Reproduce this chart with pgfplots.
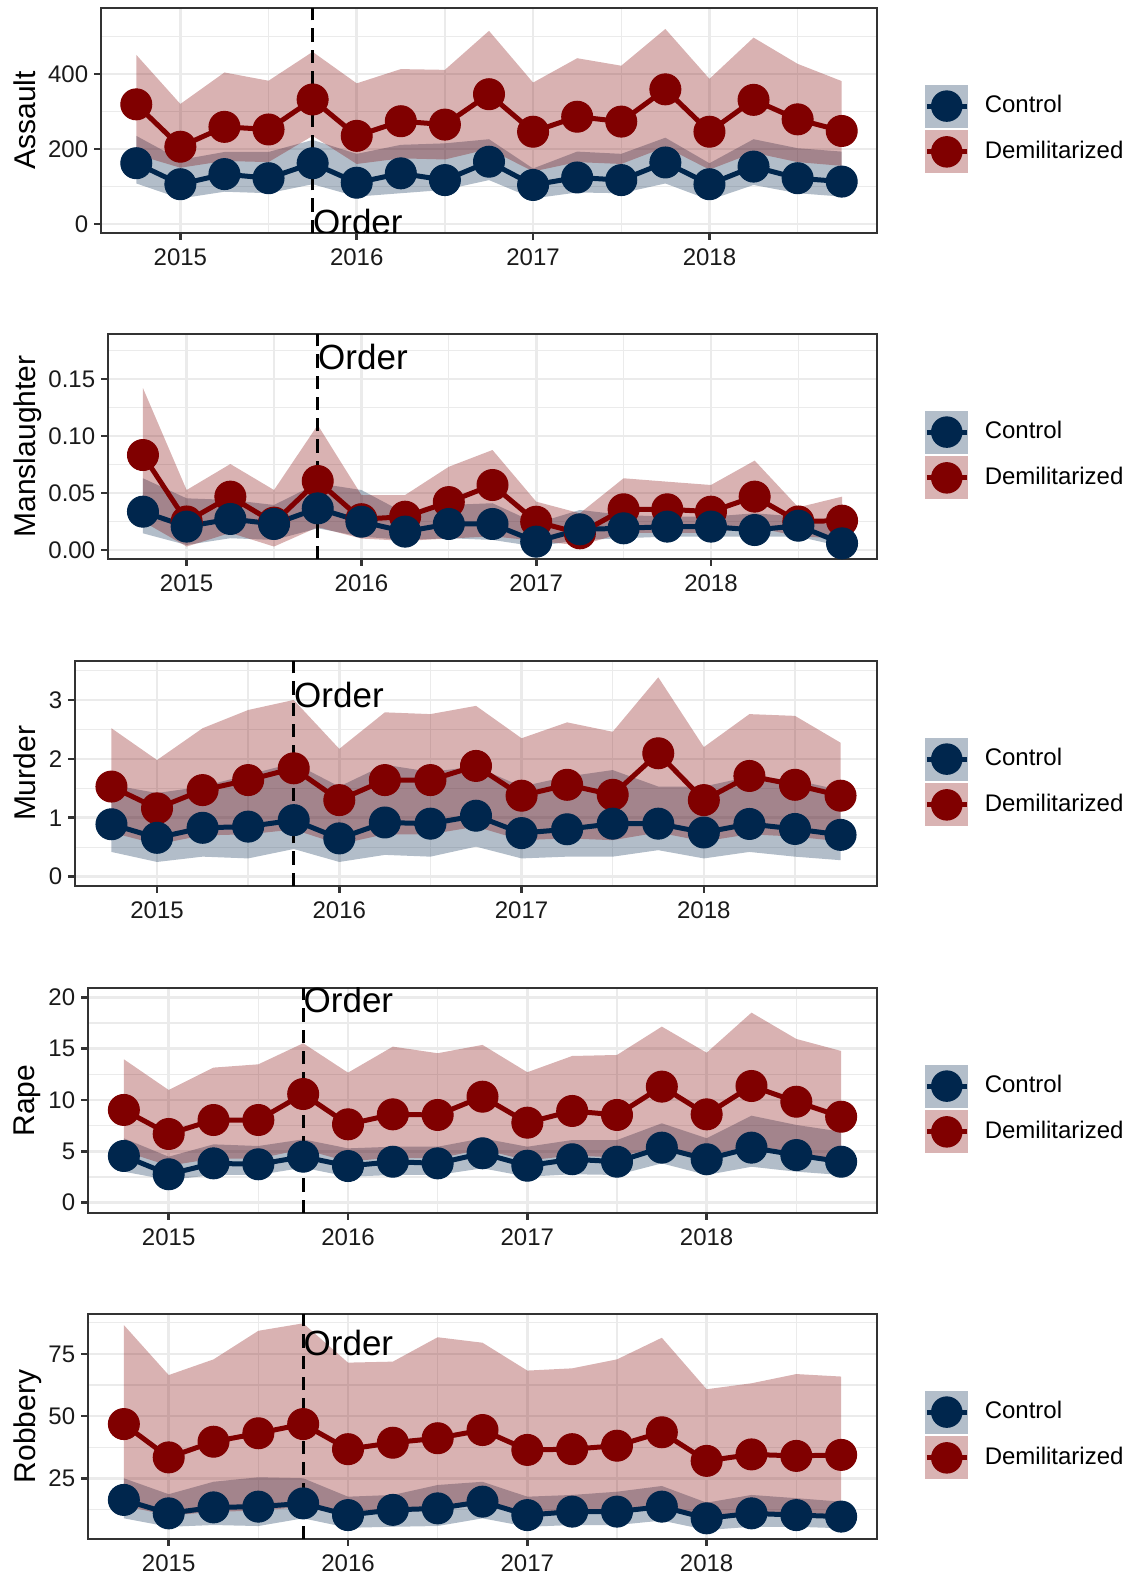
\documentclass[border=0pt]{standalone}
\usepackage{fontspec}
\setmainfont{Liberation Sans}
\usepackage{pgfplots}
\pgfplotsset{compat=1.18}
\usepackage{pgfplotstable}
\usepgfplotslibrary{fillbetween}

\definecolor{ctrl}{HTML}{00264D}
\definecolor{dem}{HTML}{800000}
\definecolor{ctrlband}{HTML}{B3BECA}
\definecolor{demband}{HTML}{D9B3B3}
\definecolor{grid92}{HTML}{EBEBEB}
\definecolor{grey20}{HTML}{333333}
\definecolor{ticktext}{HTML}{1A1A1A}

\pgfplotstableread{
x cm clo chi dm dlo dhi
2014.75 162 108 235 319 185 451
2015.00 106 68 171 206 150 320
2015.25 133 86 192 259 168 404
2015.50 122 82 192 252 165 382
2015.75 162 106 224 332 235 459
2016.00 110 73 187 235 160 375
2016.25 135 82 211 274 175 413
2016.50 117 91 215 265 172 411
2016.75 166 117 226 346 200 515
2017.00 104 68 148 246 140 377
2017.25 124 84 193 286 165 442
2017.50 117 82 187 273 160 422
2017.75 164 108 230 359 205 520
2018.00 106 64 162 246 145 387
2018.25 153 104 226 331 190 497
2018.50 122 82 202 279 165 427
2018.75 113 73 193 248 155 381
}\tAssault

\pgfplotstableread{
x cm clo chi dm dlo dhi
2014.75 0.0336 0.0146 0.0629 0.0833 0.025 0.142
2015.00 0.0205 0.0044 0.0453 0.025 0.003 0.0526
2015.25 0.0272 0.0103 0.0439 0.0468 0.015 0.0754
2015.50 0.0228 0.0088 0.0395 0.024 0.003 0.0526
2015.75 0.0365 0.019 0.0585 0.0605 0.02 0.1096
2016.00 0.0248 0.0117 0.0526 0.027 0.01 0.0482
2016.25 0.0161 0.0088 0.0322 0.0292 0.008 0.0482
2016.50 0.0228 0.0103 0.0395 0.042 0.01 0.073
2016.75 0.0228 0.0088 0.041 0.057 0.012 0.0877
2017.00 0.0073 0.003 0.0234 0.0248 0.008 0.0424
2017.25 0.0181 0.0088 0.0351 0.0146 0.004 0.0322
2017.50 0.019 0.0103 0.0307 0.0357 0.015 0.0629
2017.75 0.0205 0.0117 0.0292 0.0357 0.015 0.0599
2018.00 0.0205 0.0117 0.0292 0.0336 0.015 0.057
2018.25 0.0175 0.0117 0.0322 0.0468 0.02 0.0784
2018.50 0.0213 0.0117 0.0292 0.025 0.012 0.0374
2018.75 0.0058 0.003 0.019 0.0257 0.01 0.0468
}\tMansl

\pgfplotstableread{
x cm clo chi dm dlo dhi
2014.75 0.89 0.42 1.56 1.53 0.75 2.52
2015.00 0.66 0.25 1.42 1.16 0.55 1.98
2015.25 0.83 0.34 1.53 1.47 0.70 2.52
2015.50 0.85 0.31 1.73 1.64 0.72 2.83
2015.75 0.96 0.47 1.93 1.84 0.80 3.00
2016.00 0.65 0.25 1.53 1.30 0.55 2.17
2016.25 0.92 0.37 1.90 1.64 0.72 2.79
2016.50 0.90 0.34 1.78 1.64 0.72 2.76
2016.75 1.035 0.51 1.87 1.88 0.85 2.90
2017.00 0.74 0.31 1.53 1.375 0.62 2.35
2017.25 0.805 0.34 1.70 1.56 0.65 2.62
2017.50 0.90 0.34 1.81 1.39 0.62 2.46
2017.75 0.90 0.45 1.53 2.095 0.75 3.385
2018.00 0.75 0.31 1.53 1.30 0.60 2.20
2018.25 0.895 0.42 1.70 1.71 0.72 2.76
2018.50 0.81 0.34 1.64 1.56 0.68 2.73
2018.75 0.71 0.28 1.47 1.375 0.60 2.275
}\tMurder

\pgfplotstableread{
x cm clo chi dm dlo dhi
2014.75 4.55 3.02 6.27 9.03 5.0 13.96
2015.00 2.77 2.21 4.48 6.69 3.6 10.97
2015.25 3.83 2.70 5.68 8.05 4.3 13.15
2015.50 3.74 2.70 5.52 8.05 4.3 13.47
2015.75 4.48 3.41 6.17 10.58 5.2 15.52
2016.00 3.57 2.53 5.29 7.63 4.0 12.66
2016.25 3.99 2.70 5.45 8.60 4.4 15.19
2016.50 3.83 2.70 5.45 8.54 4.3 14.55
2016.75 4.81 3.35 6.27 10.32 5.2 15.36
2017.00 3.60 2.53 5.45 7.79 4.1 12.70
2017.25 4.23 2.77 6.10 8.93 4.6 14.28
2017.50 3.99 2.70 6.10 8.54 4.4 14.38
2017.75 5.36 3.83 7.73 11.30 5.5 17.14
2018.00 4.23 2.70 6.27 8.60 4.5 14.60
2018.25 5.36 3.50 8.47 11.36 5.6 18.50
2018.50 4.64 3.02 7.57 9.83 4.9 15.94
2018.75 3.99 2.70 6.91 8.37 3.9 14.77
}\tRape

\pgfplotstableread{
x cm clo chi dm dlo dhi
2014.75 16.3 8.9 25.0 46.8 14 86.6
2015.00 10.9 5.5 18.6 33.4 10 66.5
2015.25 13.3 6.2 23.6 39.7 11.5 72.8
2015.50 13.6 5.8 25.4 43.1 12 84.3
2015.75 14.9 8.9 25.0 46.8 13.5 87.3
2016.00 10.2 5.1 17.6 36.7 10 71.5
2016.25 12.3 5.5 18.3 39.3 11.5 71.9
2016.50 12.9 5.8 22.3 41.1 12 81.7
2016.75 15.6 8.9 23.6 44.4 14.5 79.5
2017.00 10.2 5.5 17.6 36.4 11 68.3
2017.25 11.6 6.2 18.3 36.7 12 69.2
2017.50 11.6 6.2 19.6 38.1 12.3 72.8
2017.75 13.6 8.0 21.9 43.5 14.5 81.5
2018.00 8.9 4.2 15.2 32.0 9.8 60.8
2018.25 10.9 5.5 18.3 34.6 11.5 63.2
2018.50 10.2 5.5 17.0 34.0 11 66.9
2018.75 9.6 4.9 15.6 34.4 10.5 65.9
}\tRobbery

\pgfplotsset{
  panel/.style={
    scale only axis, height=90pt,
    anchor=south west,
    xmin=2014.55, xmax=2018.95,
    xtick={2015,2016,2017,2018}, xticklabels={2015,2016,2017,2018},
    minor xtick={2015.5,2016.5,2017.5,2018.5},
    scaled y ticks=false,
    grid=both,
    major grid style={draw=grid92, line width=1.07pt},
    minor grid style={draw=grid92, line width=0.53pt},
    axis line style={draw=grey20, line width=1.07pt},
    tick align=outside, xtick pos=bottom, ytick pos=left,
    major tick length=2.75pt, minor tick length=0pt,
    major tick style={draw=grey20, line width=1.07pt},
    /pgf/number format/assume math mode=true,
    ticklabel style={font=\fontsize{9.6}{11}\selectfont, text=ticktext},
    xticklabel style={inner sep=0pt, yshift=-3.2pt},
    yticklabel style={inner sep=0pt, xshift=-2.2pt},
    ylabel style={anchor=north, inner sep=0pt,
      font=\fontsize{12}{14}\selectfont, text=black},
    legend style={at={(axis description cs:1,0.5)}, anchor=west, xshift=18.9pt, yshift=-3.4pt,
      draw=none, fill=none, inner sep=0pt, outer sep=0pt,
      nodes={inner sep=0pt, font=\fontsize{9.6}{11}\selectfont, text=black},
      row sep=1.1pt,
      /tikz/every odd column/.append style={column sep=6.2pt}},
    legend cell align=left,
  }
}

% #1 table, #2 y of the label, #3 #4 ends of the order line
\newcommand{\panelbody}[4]{%
  \addplot[ctrl, line width=2pt, legend image code/.code={%
      \path[fill=ctrlband, draw=none] (0pt,-8.6pt) rectangle (17.2pt,8.6pt);
      \draw[ctrl, line width=2pt] (0.6pt,0pt) -- (16.6pt,0pt);
      \path[fill=ctrl, draw=none] (8.6pt,0pt) circle[radius=6.3pt];}]
    table[x=x, y=cm]{#1};
  \addlegendentry{Control}
  \addplot[dem, line width=2pt, legend image code/.code={%
      \path[fill=demband, draw=none] (0pt,-8.6pt) rectangle (17.2pt,8.6pt);
      \draw[dem, line width=2pt] (0.6pt,0pt) -- (16.6pt,0pt);
      \path[fill=dem, draw=none] (8.6pt,0pt) circle[radius=6.3pt];}]
    table[x=x, y=dm]{#1};
  \addlegendentry{Demilitarized}
  \addplot[draw=none, name path=chi, forget plot] table[x=x, y=chi]{#1};
  \addplot[draw=none, name path=clo, forget plot] table[x=x, y=clo]{#1};
  \addplot[draw=none, name path=dhi, forget plot] table[x=x, y=dhi]{#1};
  \addplot[draw=none, name path=dlo, forget plot] table[x=x, y=dlo]{#1};
  \addplot[fill=ctrl, fill opacity=0.3, draw=none, forget plot] fill between[of=chi and clo];
  \addplot[fill=dem, fill opacity=0.3, draw=none, forget plot] fill between[of=dhi and dlo];
  \addplot[only marks, mark=*, mark size=6.2pt, dem, forget plot] table[x=x, y=dm]{#1};
  \addplot[only marks, mark=*, mark size=6.2pt, ctrl, forget plot] table[x=x, y=cm]{#1};
  \addplot[black, line width=1.1pt, dash pattern=on 5.3pt off 3.2pt, forget plot]
    coordinates {(2015.75,#3) (2015.75,#4)};
  \node[anchor=west, inner sep=0pt, font=\fontsize{14}{16}\selectfont] at (axis cs:2015.75,#2) {Order};
}

\begin{document}
\begin{tikzpicture}

\begin{axis}[panel, at={(40.4pt,537.2pt)}, width=310.4pt,
  ymin=-24, ymax=576, ytick={0,200,400}, minor ytick={100,300,500},
  ylabel={Assault}, ylabel style={at={(axis description cs:-0.1130,0.5)}}]
\panelbody{\tAssault}{5.9}{-24}{576}
\end{axis}

\begin{axis}[panel, at={(43.2pt,406.8pt)}, width=307.6pt,
  ymin=-0.0079, ymax=0.1895, ytick={0,0.05,0.10,0.15}, minor ytick={0.025,0.075,0.125,0.175},
  yticklabel style={/pgf/number format/.cd, fixed, fixed zerofill, precision=2},
  ylabel={Manslaughter}, ylabel style={at={(axis description cs:-0.1231,0.5)}}]
\panelbody{\tMansl}{0.169}{-0.0079}{0.1895}
\end{axis}

\begin{axis}[panel, at={(30pt,276.0pt)}, width=320.8pt,
  ymin=-0.158, ymax=3.662, ytick={0,1,2,3}, minor ytick={0.5,1.5,2.5,3.5},
  ylabel={Murder}, ylabel style={at={(axis description cs:-0.0769,0.5)}}]
\panelbody{\tMurder}{3.08}{-0.158}{3.662}
\end{axis}

\begin{axis}[panel, at={(35.2pt,145.2pt)}, width=315.6pt,
  ymin=-1.0, ymax=20.9, ytick={0,5,10,15,20}, minor ytick={2.5,7.5,12.5,17.5},
  ylabel={Rape}, ylabel style={at={(axis description cs:-0.0946,0.5)}}]
\panelbody{\tRape}{19.7}{-1.0}{20.9}
\end{axis}

\begin{axis}[panel, at={(35.2pt,14.8pt)}, width=315.6pt,
  ymin=0.59, ymax=91.06, ytick={25,50,75}, minor ytick={12.5,37.5,62.5,87.5},
  ylabel={Robbery}, ylabel style={at={(axis description cs:-0.0946,0.5)}}]
\panelbody{\tRobbery}{79.4}{0.59}{91.06}
\end{axis}

\pgfresetboundingbox
\path[use as bounding box] (0,0) rectangle (452pt,630.4pt);
\end{tikzpicture}
\end{document}
